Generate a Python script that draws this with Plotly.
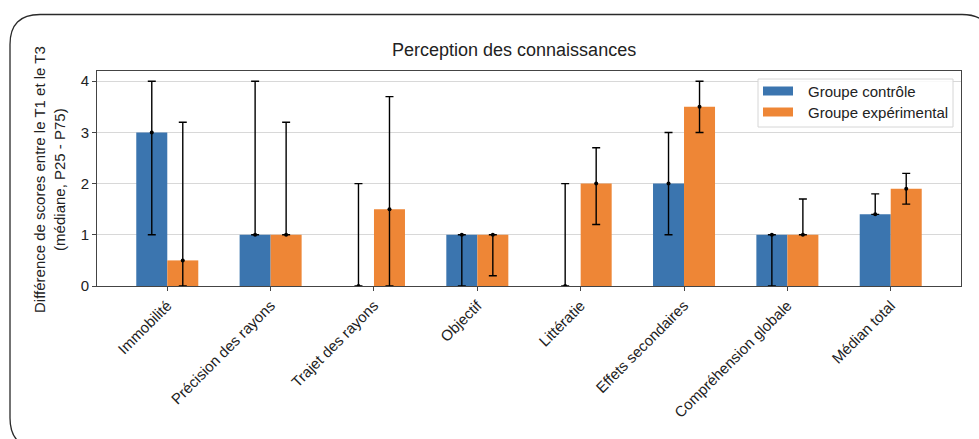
import numpy as np
import plotly.graph_objects as go

categories = ["Immobilité", "Précision des rayons", "Trajet des rayons", "Objectif",
              "Littératie", "Effets secondaires", "Compréhension globale", "Médian total"]
control_median = [3, 1, 0, 1, 0, 2, 1, 1.4]
control_p25 = [1, 1, 0, 0, 0, 1, 0, 1.4]
control_p75 = [4, 4, 2, 1, 2, 3, 1, 1.8]
exp_median = [0.5, 1, 1.5, 1, 2, 3.5, 1, 1.9]
exp_p25 = [0, 1, 0, 0.2, 1.2, 3, 1, 1.6]
exp_p75 = [3.2, 3.2, 3.7, 1, 2.7, 4, 1.7, 2.2]
series_names = ["Groupe contrôle", "Groupe expérimental"]
y_ticks = [0, 1, 2, 3, 4]

BLUE = "#3b75af"
ORANGE = "#ee8636"
FONT = "Liberation Sans, Arial, sans-serif"

W, H = 979, 439
L, R, T, B = 97, 18, 71, 153
PW, PH = W - L - R, H - T - B

def px(x):
    return (x - L) / PW

def py(y):
    return (H - B - y) / PH

idx = np.arange(len(categories))
bw = 0.3
fig = go.Figure()
for med, p25, p75, off, col, name in [
    (control_median, control_p25, control_p75, -bw / 2, BLUE, series_names[0]),
    (exp_median, exp_p25, exp_p75, bw / 2, ORANGE, series_names[1]),
]:
    med = np.array(med, dtype=float)
    fig.add_trace(go.Bar(x=idx + off, y=med, width=bw, marker=dict(color=col, line=dict(width=0)),
                         name=name, showlegend=False))
    fig.add_trace(go.Scatter(
        x=idx + off, y=med, mode="markers",
        marker=dict(color="black", size=4),
        error_y=dict(type="data", symmetric=False,
                     array=np.array(p75) - med, arrayminus=med - np.array(p25),
                     color="black", thickness=1.4, width=4),
        showlegend=False, hoverinfo="skip"))

shapes = []
# rounded outer frame
Lf, Tf, Rf, Bf, r = 10, 14.5, 992, 448, 30
def P(x, y):
    return f"{px(x):.5f},{py(y):.5f}"
path = (f"M{P(Lf, Tf + r)} Q{P(Lf, Tf)} {P(Lf + r, Tf)} L{P(Rf - r, Tf)} "
        f"Q{P(Rf, Tf)} {P(Rf, Tf + r)} L{P(Rf, Bf - r)} Q{P(Rf, Bf)} {P(Rf - r, Bf)} "
        f"L{P(Lf + r, Bf)} Q{P(Lf, Bf)} {P(Lf, Bf - r)} Z")
shapes.append(dict(type="path", xref="paper", yref="paper", path=path,
                   line=dict(color="#2a2a2a", width=1.3), layer="above"))

# legend box
lx0, lx1, ly0, ly1 = 758, 953, 79, 127
shapes.append(dict(type="rect", xref="paper", yref="paper", x0=px(lx0), x1=px(lx1),
                   y0=py(ly1), y1=py(ly0), line=dict(color="#d6d6d6", width=1),
                   fillcolor="rgba(255,255,255,0.85)", layer="above"))
annotations = []
for i, (name, col) in enumerate(zip(series_names, [BLUE, ORANGE])):
    yc = 91 + i * 21
    shapes.append(dict(type="rect", xref="paper", yref="paper", x0=px(763), x1=px(793),
                       y0=py(yc + 4.5), y1=py(yc - 4.5), line=dict(width=0),
                       fillcolor=col, layer="above"))
    annotations.append(dict(x=px(806), y=py(yc), xref="paper", yref="paper", text=name,
                            showarrow=False, xanchor="left", yanchor="middle",
                            font=dict(size=15, color="#222", family=FONT)))

annotations.append(dict(x=px(514), y=py(50), xref="paper", yref="paper",
                        text="Perception des connaissances", showarrow=False,
                        xanchor="center", yanchor="middle",
                        font=dict(size=18, color="#222", family=FONT)))
annotations.append(dict(x=px(49), y=py(180), xref="paper", yref="paper",
                        text="Différence de scores entre le T1 et le T3<br>(médiane, P25 - P75)",
                        showarrow=False, textangle=-90, xanchor="center", yanchor="middle",
                        font=dict(size=15, color="#222", family=FONT)))

fig.update_layout(
    width=W, height=H, margin=dict(l=L, r=R, t=T, b=B),
    paper_bgcolor="white", plot_bgcolor="white",
    barmode="overlay", showlegend=False,
    font=dict(family=FONT, size=14, color="#222"),
    shapes=shapes, annotations=annotations,
)
fig.update_xaxes(range=[-0.68, 7.68], tickmode="array", tickvals=idx, ticktext=categories,
                 tickangle=-45, showgrid=False, showline=True, linecolor="#444", linewidth=1,
                 mirror=True, ticks="outside", ticklen=4, tickcolor="#444", zeroline=False,
                 tickfont=dict(size=15, color="#222"))
fig.update_yaxes(range=[0, 4.2], tickmode="array", tickvals=y_ticks, showgrid=True,
                 gridcolor="#d8d8d8", gridwidth=1, showline=True, linecolor="#444", linewidth=1,
                 mirror=True, ticks="outside", ticklen=4, tickcolor="#444", zeroline=False,
                 tickfont=dict(size=15, color="#222"))

fig.write_html("out.html", config={"displayModeBar": False},
               post_script="document.body.style.margin='0';document.body.style.overflow='hidden';")
